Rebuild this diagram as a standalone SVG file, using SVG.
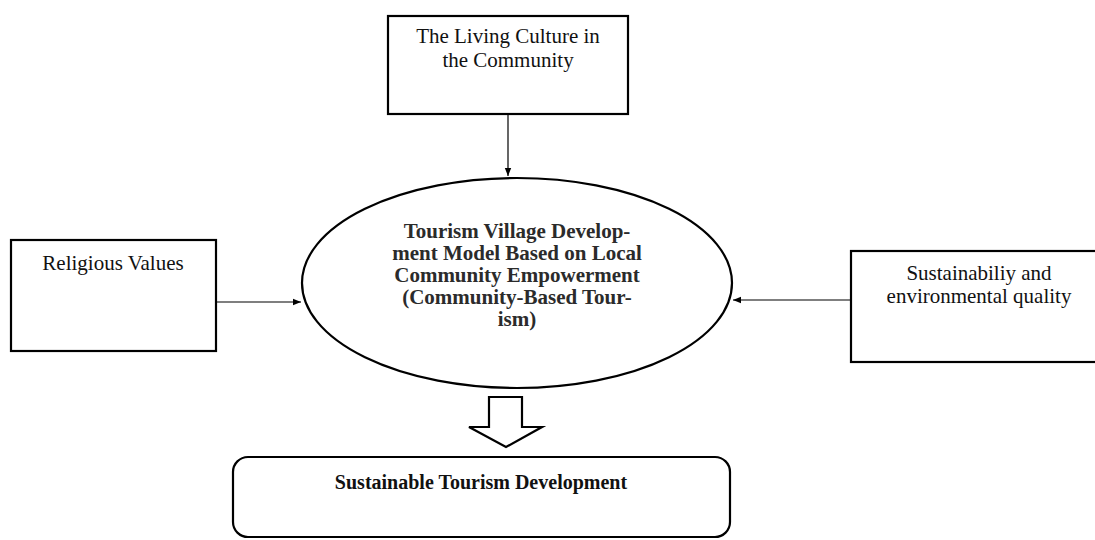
<svg xmlns="http://www.w3.org/2000/svg" width="1095" height="540" viewBox="0 0 1095 540">
<defs>
<marker id="ah" viewBox="0 0 10 10" refX="10" refY="5" markerWidth="8" markerHeight="8" markerUnits="userSpaceOnUse" orient="auto">
<path d="M0,1 L10,5 L0,9 z" fill="#000"/>
</marker>
<style>
.box{fill:#fff;stroke:#000;stroke-width:2.2}
.t{font-family:"Liberation Serif","Times New Roman",serif;font-size:21px;fill:#111;text-anchor:middle}
.b{font-family:"Liberation Serif","Times New Roman",serif;font-size:21px;font-weight:bold;fill:#2b2b2b;text-anchor:middle}
.c{stroke:#000;stroke-width:1.2;fill:none}
</style>
</defs>
<rect width="1095" height="540" fill="#fff"/>
<g id="connectors">
<line class="c" x1="508" y1="115" x2="508" y2="176" marker-end="url(#ah)"/>
<line class="c" x1="216" y1="302" x2="301" y2="302" marker-end="url(#ah)"/>
<line class="c" x1="851" y1="300" x2="733" y2="300" marker-end="url(#ah)"/>
<path d="M489,397 L522,397 L522,427 L542,427 L506,447 L469,427 L489,427 Z" fill="#fff" stroke="#000" stroke-width="2.2" stroke-linejoin="miter"/>
</g>
<g id="culture">
<rect class="box" x="388" y="16" width="240" height="98"/>
<text class="t" x="508" y="43">The Living Culture in</text>
<text class="t" x="508" y="67">the Community</text>
</g>
<g id="religious">
<rect class="box" x="11" y="240" width="205" height="111"/>
<text class="t" x="113" y="270">Religious Values</text>
</g>
<g id="sustainability">
<rect class="box" x="851" y="251" width="250" height="111"/>
<text class="t" x="979" y="280">Sustainabiliy and</text>
<text class="t" x="979" y="303">environmental quality</text>
</g>
<g id="model">
<ellipse cx="517" cy="283" rx="215" ry="105" fill="#fff" stroke="#000" stroke-width="2.2"/>
<text class="b" x="517" y="238">Tourism Village Develop-</text>
<text class="b" x="517" y="260">ment Model Based on Local</text>
<text class="b" x="517" y="282">Community Empowerment</text>
<text class="b" x="517" y="304">(Community-Based Tour-</text>
<text class="b" x="517" y="326">ism)</text>
</g>
<g id="outcome">
<rect class="box" x="233" y="457" width="497" height="80" rx="15" ry="15"/>
<text class="b" x="481" y="489" style="fill:#111;font-size:20px">Sustainable Tourism Development</text>
</g>
</svg>
